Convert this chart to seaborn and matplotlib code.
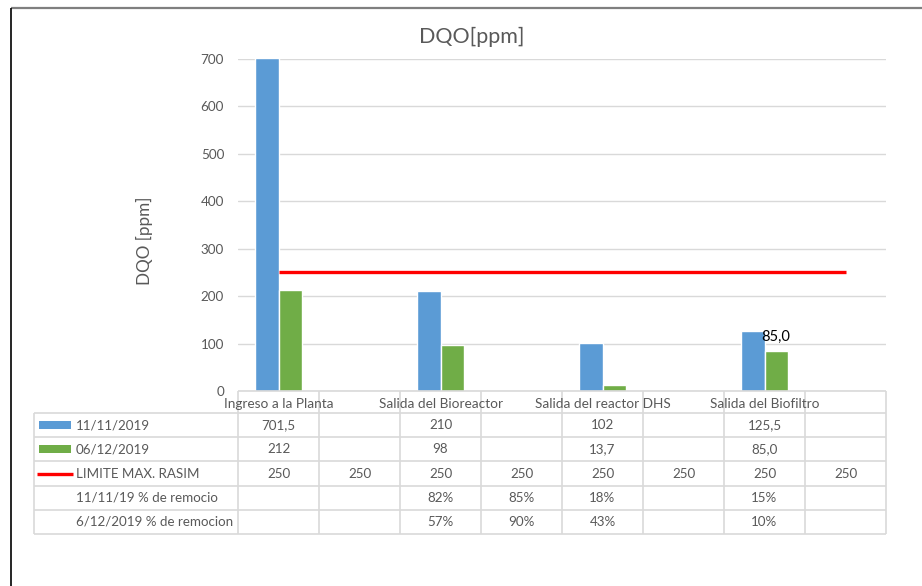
import matplotlib
matplotlib.use("Agg")
import matplotlib.pyplot as plt
import numpy as np
import pandas as pd
import seaborn as sns

# ---- data ---------------------------------------------------------------
puntos = ["Ingreso a la Planta", "", "Salida del Bioreactor", "",
          "Salida del reactor DHS", "", "Salida del Biofiltro", ""]
fechas = ["11/11/2019", "06/12/2019"]
dqo_nov = [701.5, None, 210, None, 102, None, 125.5, None]
dqo_dic = [212, None, 98, None, 13.7, None, 85.0, None]
limite_nombre = "LIMITE MAX. RASIM"
limite = [250, 250, 250, 250, 250, 250, 250, 250]
remocion_nombres = ["11/11/19 % de remocio", "6/12/2019 % de remocion"]
remocion_nov = ["", "", "82%", "85%", "18%", "", "15%", ""]
remocion_dic = ["", "", "57%", "90%", "43%", "", "10%", ""]
y_ticks = [0, 100, 200, 300, 400, 500, 600, 700]

titulo = "DQO[ppm]"
eje_y = "DQO [ppm]"

# ---- style --------------------------------------------------------------
sns.set_theme(style="white")
plt.rcParams["font.family"] = ["Lato", "DejaVu Sans"]

AZUL = "#5B9BD5"
VERDE = "#70AD47"
ROJO = "#FF0000"
TEXTO = "#595959"
REJILLA = "#D9D9D9"

W, H = 922, 586
fig = plt.figure(figsize=(W / 100, H / 100), dpi=100)
fig.patch.set_facecolor("white")

# plot area in pixel coordinates
x0, x1, ytop, ybot = 238, 886, 59, 391
ax = fig.add_axes([x0 / W, 1 - ybot / H, (x1 - x0) / W, (ybot - ytop) / H])

# ---- bars ---------------------------------------------------------------
filas = []
for i in range(len(puntos)):
    for fecha, serie in zip(fechas, [dqo_nov, dqo_dic]):
        if serie[i] is not None:
            filas.append({"pos": i, "fecha": fecha, "dqo": serie[i]})
df = pd.DataFrame(filas)

sns.barplot(data=df, x="pos", y="dqo", hue="fecha", order=list(range(len(puntos))),
            hue_order=fechas, palette=[AZUL, VERDE], width=0.57, saturation=1,
            errorbar=None, legend=False, ax=ax, zorder=2)

# limit line
sns.lineplot(x=list(range(len(puntos))), y=limite, color=ROJO, lw=2.4,
             solid_capstyle="butt", ax=ax, zorder=3)

# value label on the last green bar
v = dqo_dic[6]
ax.annotate(f"{v:.1f}".replace(".", ","), xy=(6 + 0.57 / 4, v), xytext=(0, 5),
            textcoords="offset points", ha="center", va="bottom",
            fontsize=10.5, color="black", zorder=4)

ax.set_xlim(-0.5, len(puntos) - 0.5)
ax.set_ylim(0, 700)
ax.set_yticks(y_ticks)
ax.set_yticklabels([str(t) for t in y_ticks], color=TEXTO, fontsize=9.7)
ax.tick_params(axis="y", length=0, pad=10)
ax.set_xticks([])
ax.set_xlabel("")
ax.set_ylabel("")
ax.yaxis.grid(True, color=REJILLA, lw=1)
ax.set_axisbelow(True)
for s in ax.spines.values():
    s.set_visible(False)
ax.patch.set_alpha(0)

fig.text(472 / W, 1 - 37 / H, titulo, ha="center", va="center",
         fontsize=15.5, color=TEXTO)
fig.text(144 / W, 1 - 241 / H, eje_y, ha="center", va="center",
         rotation=90, fontsize=12.3, color=TEXTO)

# ---- data table (pixel coordinates) -------------------------------------
tb = fig.add_axes([0, 0, 1, 1], zorder=5)
tb.set_xlim(0, W)
tb.set_ylim(H, 0)
tb.axis("off")
tb.patch.set_alpha(0)

col_w = (x1 - x0) / len(puntos)
col_edges = [x0 + k * col_w for k in range(len(puntos) + 1)]
row_edges = [413, 437.2, 461.4, 485.6, 509.8, 534]
tab_left = 34
lc = dict(color=REJILLA, lw=1.2, solid_capstyle="butt")

# header (category names)
tb.plot([x0, x1], [ybot, ybot], **lc)
for xe in col_edges:
    tb.plot([xe, xe], [ybot, row_edges[-1]], **lc)
for i, nombre in enumerate(puntos):
    if nombre:
        tb.text(x0 + (i + 0.5) * col_w, 404, nombre, ha="center", va="center",
                fontsize=9.8, color=TEXTO)

# body
for ye in row_edges:
    tb.plot([tab_left, x1], [ye, ye], **lc)
tb.plot([tab_left, tab_left], [row_edges[0], row_edges[-1]], **lc)


def fmt(v):
    if v is None:
        return ""
    if isinstance(v, float):
        return f"{v:.1f}".replace(".", ",")
    return str(v)


filas_tabla = [
    (fechas[0], [fmt(v) for v in dqo_nov]),
    (fechas[1], [fmt(v) for v in dqo_dic]),
    (limite_nombre, [fmt(v) for v in limite]),
    (remocion_nombres[0], remocion_nov),
    (remocion_nombres[1], remocion_dic),
]
for r, (nombre, celdas) in enumerate(filas_tabla):
    yc = (row_edges[r] + row_edges[r + 1]) / 2
    tb.text(76, yc, nombre, ha="left", va="center", fontsize=9.6, color=TEXTO)
    for i, c in enumerate(celdas):
        if c:
            tb.text(x0 + (i + 0.5) * col_w, yc, c, ha="center", va="center",
                    fontsize=9.6, color=TEXTO)

# legend keys in the table
y1 = (row_edges[0] + row_edges[1]) / 2
y2 = (row_edges[1] + row_edges[2]) / 2
y3 = (row_edges[2] + row_edges[3]) / 2
tb.add_patch(plt.Rectangle((39, y1 - 4), 32, 8, color=AZUL, lw=0))
tb.add_patch(plt.Rectangle((39, y2 - 4), 32, 8, color=VERDE, lw=0))
tb.plot([37, 73], [y3, y3], color=ROJO, lw=2.4, solid_capstyle="butt")

# chart frame
tb.plot([11, W], [8, 8], color="#7F7F7F", lw=1.6, solid_capstyle="butt")
tb.plot([11, 11], [8, H], color="black", lw=1.2, solid_capstyle="butt")

fig.savefig("out.png", dpi=100)
